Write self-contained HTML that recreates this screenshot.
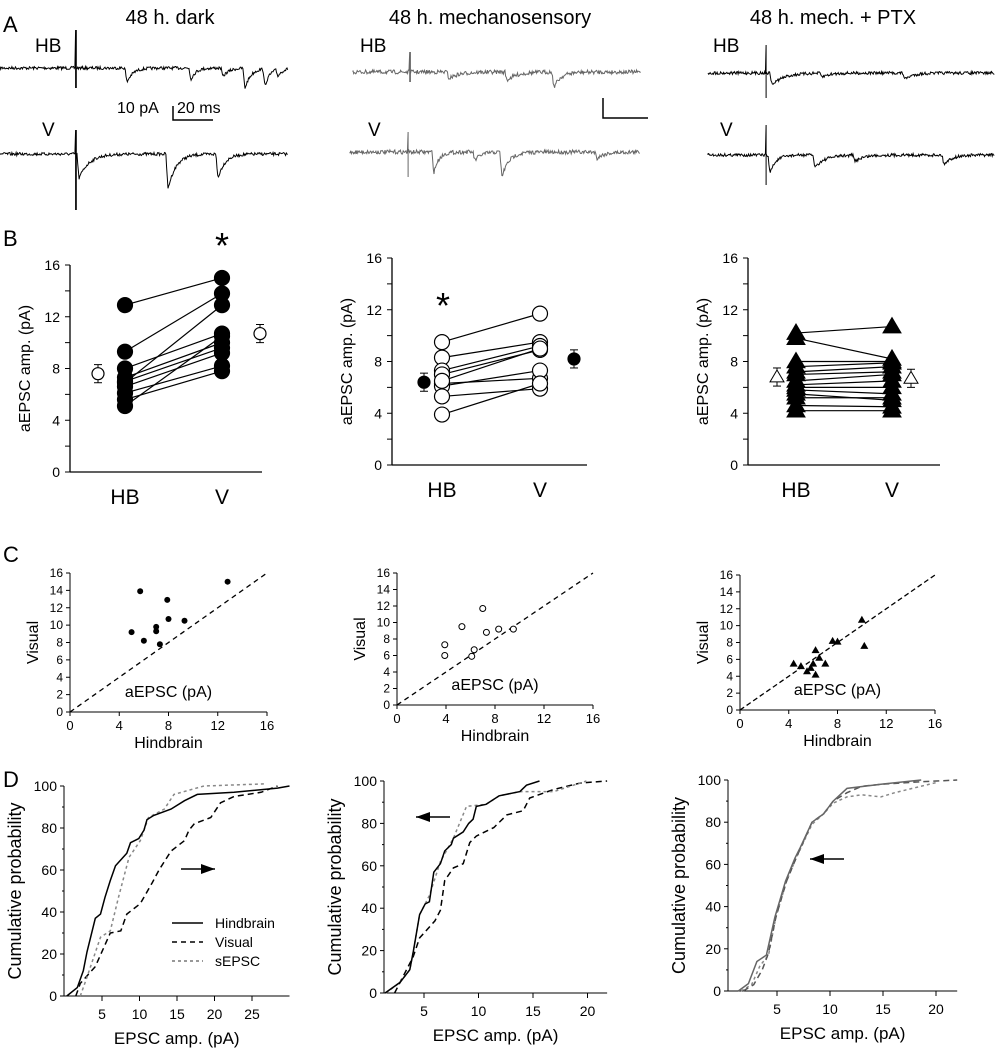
<!DOCTYPE html>
<html><head><meta charset="utf-8"><style>
body{margin:0;background:#fff;}
svg{display:block;font-family:"Liberation Sans",sans-serif;}
</style></head><body>
<svg id="s" width="995" height="1050" viewBox="0 0 995 1050" xmlns="http://www.w3.org/2000/svg">
<g font-size="22" fill="#000">
<text x="3" y="32">A</text><text x="3" y="246">B</text><text x="3" y="562">C</text><text x="3" y="787">D</text>
</g>
<g font-size="20" text-anchor="middle">
<text x="170" y="24">48 h. dark</text>
<text x="490" y="24">48 h. mechanosensory</text>
<text x="833" y="24">48 h. mech. + PTX</text>
</g>
<g font-size="19">
<text x="35" y="52">HB</text><text x="42" y="136">V</text>
<text x="360" y="52">HB</text><text x="368" y="136">V</text>
<text x="713" y="52">HB</text><text x="720" y="136">V</text>
<text x="117" y="113" font-size="16">10 pA</text><text x="177" y="113" font-size="16">20 ms</text>
</g>
<g stroke="#000" stroke-width="1.5" fill="none">
<path d="M173 106 V120 H213"/>
<path d="M603 98 V118 H648"/>
</g>
<g id="traces" fill="none" stroke-width="1"></g>
<g id="plots"></g>
</svg>
<script>
var NS="http://www.w3.org/2000/svg",S=document.getElementById('plots'),T=document.getElementById('traces');
var seed=7;function rnd(){seed=(seed*16807)%2147483647;return seed/2147483647;}
function el(t,a,p,txt){var e=document.createElementNS(NS,t);for(var k in a)e.setAttribute(k,a[k]);if(txt!=null)e.textContent=txt;(p||S).appendChild(e);return e;}
function txt(x,y,s,size,anchor,rot){var a={x:x,y:y,'font-size':size||15,'text-anchor':anchor||'middle'};if(rot)a.transform='rotate(-90 '+x+' '+y+')';el('text',a,S,s);}
function trace(x0,x1,y,art,events,col,noise){var d='M'+x0+' '+y;for(var x=x0;x<=x1;x+=0.7){var v=(rnd()-0.5)*noise;for(var i=0;i<events.length;i++){var e=events[i];var dx=x-e[0];if(dx>=0)v+=e[1]*Math.exp(-dx/e[2])*(dx<2?dx/2:1);}
if(Math.abs(x-art[0])<0.4){d+=' L'+x+' '+(y-art[1])+' L'+x+' '+(y+art[2]);}d+=' L'+x.toFixed(1)+' '+(y+v).toFixed(1);}
el('path',{d:d,stroke:col},T);}
trace(0,288,68,[76,38,20],[[125,20,6],[189,17,5],[221,12,6],[243,28,6],[263,26,5],[276,10,5]],'#000',3);
trace(0,288,154,[76,24,56],[[77,30,10],[166,45,8],[216,32,7]],'#000',3);
trace(353,641,72,[410,20,10],[[447,8,10],[505,10,10],[552,20,7]],'#666',4);
trace(350,640,152,[408,20,25],[[432,30,5],[473,12,6],[500,33,7],[595,8,8]],'#666',4);
trace(708,995,73,[766,28,25],[[770,14,12],[820,5,8],[903,8,8]],'#000',3);
trace(708,995,155,[766,30,30],[[768,25,6],[813,15,10],[853,8,8],[942,12,8]],'#000',3);
function bpanel(ax,axEnd,y0,y16,xh,xv,hb,v,mk,fillM,mh,mv,mhx,mvx,star){
 var k=(y0-y16)/16;function Y(p){return y0-p*k;}
 el('line',{x1:ax,y1:y16,x2:ax,y2:y0,stroke:'#000','stroke-width':1.3});
 el('line',{x1:ax,y1:y0,x2:axEnd,y2:y0,stroke:'#000','stroke-width':1.3});
 for(var t=0;t<=16;t+=2){el('line',{x1:ax-5,y1:Y(t),x2:ax,y2:Y(t),stroke:'#000'});if(t%4==0)txt(ax-10,Y(t)+5,t,14,'end');}
 txt(ax-40,Y(8),'aEPSC amp. (pA)',16,'middle',true);
 txt(xh,y0+32,'HB',21);txt(xv,y0+32,'V',21);
 for(var i=0;i<hb.length;i++)el('line',{x1:xh,y1:Y(hb[i]),x2:xv,y2:Y(v[i]),stroke:'#000','stroke-width':1.2});
 function m(x,y,f,sm){var r=sm?6:7.5;if(mk=='c')el('circle',{cx:x,cy:y,r:r,fill:f,stroke:'#000','stroke-width':1.2});else{var s=sm?7:9;el('path',{d:'M'+x+' '+(y-s)+' L'+(x+s)+' '+(y+s*0.7)+' L'+(x-s)+' '+(y+s*0.7)+'Z',fill:f,stroke:'#000'});}}
 for(i=0;i<hb.length;i++){m(xh,Y(hb[i]),fillM);m(xv,Y(v[i]),fillM);}
 function mean(x,val,f){el('line',{x1:x,y1:Y(val+0.7),x2:x,y2:Y(val-0.7),stroke:'#000'});el('line',{x1:x-4,y1:Y(val+0.7),x2:x+4,y2:Y(val+0.7),stroke:'#000'});el('line',{x1:x-4,y1:Y(val-0.7),x2:x+4,y2:Y(val-0.7),stroke:'#000'});m(x,Y(val),f,true);}
 var other=fillM=='#000'?'#fff':'#000';if(mk=='t')other='#fff';
 mean(mhx,mh,other);mean(mvx,mv,other);
 if(star)txt(star[0],star[1],'*',36);
}
bpanel(70,262,472,265,125,222,[12.9,9.3,8.0,7.3,7.0,6.6,6.1,5.6,5.1,6.9],[15.0,13.8,10.7,10.0,9.6,9.2,8.2,7.8,10.5,12.9],'c','#000',7.6,10.7,98,260,[222,258]);
bpanel(392,587,465,258,442,540,[9.5,8.3,7.3,7.0,6.3,6.1,5.3,3.9,6.5],[11.7,9.5,9.2,8.9,6.7,7.3,5.9,6.3,9.0],'c','#fff',6.4,8.2,424,574,[443,318]);
bpanel(748,940,465,258,796,892,[10.2,9.8,8.0,7.6,7.2,6.5,6.2,6.0,5.8,5.2,4.6,4.2,5.5,7.0],[10.7,8.2,8.0,7.9,7.6,7.0,6.5,6.0,5.5,5.2,4.5,4.2,5.0,7.2],'t','#000',6.8,6.7,777,911,null);
function cpanel(x0,x16,y0,y16,step,pts,mk,dash){
 var kx=(x16-x0)/16,ky=(y0-y16)/16;function X(v){return x0+v*kx}function Y(v){return y0-v*ky}
 el('line',{x1:x0,y1:Y(16),x2:x0,y2:y0,stroke:'#000'});el('line',{x1:x0,y1:y0,x2:x16,y2:y0,stroke:'#000'});
 for(var t=0;t<=16;t+=step){el('line',{x1:x0-4,y1:Y(t),x2:x0,y2:Y(t),stroke:'#000'});txt(x0-7,Y(t)+4,t,12,'end');}
 for(t=0;t<=16;t+=4){el('line',{x1:X(t),y1:y0,x2:X(t),y2:y0+4,stroke:'#000'});txt(X(t),y0+18,t,13);}
 el('line',{x1:x0,y1:y0,x2:X(16),y2:Y(16),stroke:'#000','stroke-dasharray':dash,'stroke-width':1.3});
 txt(x0-32,Y(8),'Visual',16,'middle',true);txt(X(8),y0+36,'Hindbrain',16);txt(X(8),y0-15,'aEPSC (pA)',16);
 pts.forEach(function(p){if(mk=='f')el('circle',{cx:X(p[0]),cy:Y(p[1]),r:3,fill:'#000'});else if(mk=='o')el('circle',{cx:X(p[0]),cy:Y(p[1]),r:3,fill:'#fff',stroke:'#000'});else el('path',{d:'M'+X(p[0])+' '+(Y(p[1])-4)+' l4 7 h-8z',fill:'#000'});});
}
cpanel(70,267,712,573,2,[[5.7,13.9],[12.8,15],[7.9,12.9],[8,10.7],[9.3,10.5],[7.0,9.8],[7.0,9.3],[5.0,9.2],[6.0,8.2],[7.3,7.8]],'f','5,4');
cpanel(397,593,705,573,2,[[7.0,11.7],[5.3,9.5],[8.3,9.2],[9.5,9.2],[7.3,8.8],[3.9,7.3],[6.3,6.7],[6.1,5.9],[3.9,6.0]],'o','5,4');
cpanel(740,935,710,575,2,[[10.0,10.7],[7.6,8.2],[8.0,8.1],[10.2,7.6],[6.2,7.1],[6.5,6.2],[6.0,5.5],[4.4,5.5],[7.0,5.5],[5.0,5.2],[5.8,5.0],[5.5,4.6],[6.2,4.2]],'t','5,3');
function dpanel(ax,x0,kx,xmax,y0,y100,xt,curves,arrow,legend){
 function Y(p){return y0-p*(y0-y100)/100}function X(v){return x0+v*kx}
 el('line',{x1:ax,y1:y100,x2:ax,y2:y0,stroke:'#000'});el('line',{x1:ax,y1:y0,x2:X(xmax),y2:y0,stroke:'#000'});
 for(var t=0;t<=100;t+=20){el('line',{x1:ax-4,y1:Y(t),x2:ax,y2:Y(t),stroke:'#000'});txt(ax-7,Y(t)+5,t,14,'end');}
 for(t=10;t<=90;t+=20)el('line',{x1:ax-2,y1:Y(t),x2:ax,y2:Y(t),stroke:'#000'});
 xt.forEach(function(v){el('line',{x1:X(v),y1:y0,x2:X(v),y2:y0+5,stroke:'#000'});txt(X(v),y0+23,v,14);});
 txt(ax-43,Y(50),'Cumulative probability',18,'middle',true);txt((ax+X(xmax))/2,y0+48,'EPSC amp. (pA)',17);
 curves.forEach(function(c){var d='';c.p.forEach(function(q,i){d+=(i?' L':'M')+X(q[0]).toFixed(1)+' '+Y(q[1]).toFixed(1);});el('path',{d:d,fill:'none',stroke:c.col,'stroke-width':c.w||1.5,'stroke-dasharray':c.dash||''});});
 var a=arrow;el('line',{x1:a[0],y1:a[1],x2:a[2],y2:a[1],stroke:'#000','stroke-width':1.5});var dir=a[2]>a[0]?1:-1;el('path',{d:'M'+a[2]+' '+a[1]+' l'+(-dir*14)+' -5 v10z',fill:'#000'});
 if(legend){var L=[['Hindbrain','#000',''],['Visual','#000','5,4'],['sEPSC','#777','3,3']];L.forEach(function(l,i){var y=legend[1]+i*19;el('line',{x1:legend[0],y1:y,x2:legend[0]+31,y2:y,stroke:l[1],'stroke-width':1.5,'stroke-dasharray':l[2]});el('text',{x:legend[0]+43,y:y+5,'font-size':14},S,l[0]);});}
}
dpanel(64,64.5,7.5,30,996,786,[5,10,15,20,25],[
{col:'#000',dash:'6,4',p:[[1.5,0],[2.1,6],[4.1,14],[6.1,30],[7.5,31],[8.3,39],[10.1,44],[11.7,54],[12.6,60],[14.2,69],[16,74],[16.6,79],[17.3,82],[19.5,85],[20.8,92],[22.6,95],[26.2,97],[28.4,100]]},
{col:'#888',dash:'3,3',p:[[2.1,0],[3,9],[4.8,28],[6.1,31],[7.2,47],[8.6,66],[10.1,74],[11.2,85],[13.3,89],[14.6,96],[18.6,100],[26.6,101]]},
{col:'#000',p:[[0.3,0],[1.7,4],[2.5,12],[3,21],[4.1,37],[4.8,39],[5.4,47],[6.1,55],[6.8,62],[8.3,68],[8.8,73],[9.9,75],[10.6,79],[11,84],[11.9,86],[14.2,89],[16,93],[17.7,96],[22.6,97],[28.4,99],[30,100]]}],
[181,869,215],[172,923]);
dpanel(384,369.5,10.9,21.8,993,781,[5,10,15,20],[
{col:'#000',dash:'6,4',p:[[2.3,0],[3.1,8],[4,17],[4.6,26],[5.3,30],[6,34],[6.5,39],[6.9,53],[7.7,59],[8.6,61],[9.2,71],[9.8,74],[11.4,78],[12.6,84],[14.1,86],[14.7,92],[16.9,96],[19.3,99],[21.8,100]]},
{col:'#888',dash:'3,3',p:[[1.5,0],[2.8,5],[3.7,11],[4,19],[4.6,37],[5.5,46],[6.5,62],[7.7,73],[8.9,88],[10.7,89],[11.9,93],[13.8,95],[16.9,95],[19.9,100]]},
{col:'#000',p:[[1.43,0],[2.8,5],[3.7,11],[4,19],[4.6,37],[5.1,42],[5.5,43],[5.9,57],[6.5,61],[6.9,67],[7.5,70],[7.7,73],[8.6,76],[9.1,80],[9.5,82],[9.8,88],[10.7,89],[11.9,93],[13.8,95],[14.4,98],[15.6,100]]}],
[450,817,416],null);
dpanel(728,724,10.6,22,991,780,[5,10,15,20],[
{col:'#888',dash:'3,3',p:[[1.6,0],[2.6,3],[3.4,12],[4.2,17],[4.9,35],[5.9,52],[6.8,63],[8.3,79],[9.4,84],[10.3,89],[11.6,92],[13,93],[14.8,92],[16.1,94],[20.2,99]]},
{col:'#555',dash:'6,4',p:[[1.8,0],[2.8,3],[3.6,10],[4.2,18],[4.9,35],[5.9,52],[6.8,63],[8.3,80],[9.4,84],[10.3,90],[11.6,94],[13,97],[15,98],[18,99],[22,100]]},
{col:'#666',p:[[1.35,0],[2.3,3.5],[3.1,14],[4,17],[4.8,35],[5.8,52],[6.7,63],[7.2,68],[8.3,80],[9.4,84],[10.3,90],[11.6,96],[14.8,98],[18.6,100]]}],
[844,859,810],null);
</script>
</body></html>
